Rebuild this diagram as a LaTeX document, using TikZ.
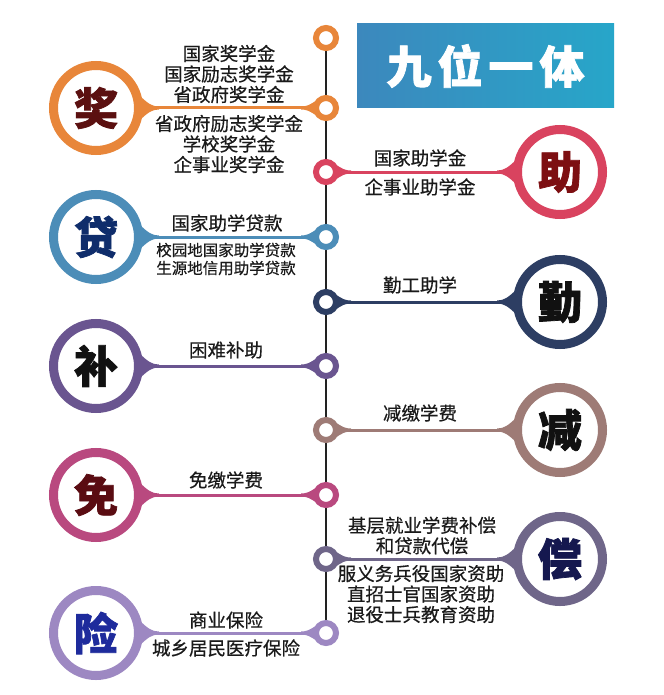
\documentclass[tikz,border=0pt]{standalone}
\usepackage{fontspec}
\setmainfont{Noto Sans CJK SC}[UprightFeatures={FakeBold=0.5}, BoldFeatures={FakeBold=1.6}]
\usetikzlibrary{calc}
\pgfdeclarelayer{bg}\pgfdeclarelayer{paper}\pgfsetlayers{paper,bg,main}
\definecolor{cJiang}{HTML}{E8863A}
\definecolor{cZhu}{HTML}{D9435F}
\definecolor{cDai}{HTML}{4C8DB8}
\definecolor{cQin}{HTML}{2D3E63}
\definecolor{cBu}{HTML}{6A5590}
\definecolor{cJian}{HTML}{9E7B76}
\definecolor{cMian}{HTML}{B9497F}
\definecolor{cChang}{HTML}{6F6689}
\definecolor{cXian}{HTML}{9D88C2}
\definecolor{kJiang}{HTML}{5B1010}
\definecolor{kZhu}{HTML}{7D0F12}
\definecolor{kDai}{HTML}{0F2D6B}
\definecolor{kBlack}{HTML}{111111}
\definecolor{kMian}{HTML}{5A0C12}
\definecolor{kChang}{HTML}{15184F}
\definecolor{kXian}{HTML}{1E2B9C}
\definecolor{txt}{HTML}{1A1A1A}
\definecolor{spine}{HTML}{222222}
\definecolor{tl}{HTML}{3C88BD}
\definecolor{tr}{HTML}{27A6C9}
\newcommand\myflare[5]{\begin{scope}[shift={(#1)},xscale=#2]\fill[#3] (-4,-#5) .. controls (#4*0.3,-#5*0.35) and (#4*0.55,-1.5) .. (#4,-1.5) -- (#4,1.5) .. controls (#4*0.55,1.5) and (#4*0.3,#5*0.35) .. (-4,#5) -- cycle;\end{scope}}
\begin{document}
\begin{tikzpicture}[x=1pt,y=-1pt,
  big/.style={circle, draw=#1, line width=9pt, fill=white, minimum size=85pt, inner sep=0pt, font=\fontsize{44}{44}\selectfont\bfseries},
  small/.style={circle, draw=#1, line width=6pt, fill=white, minimum size=20pt, inner sep=0pt},
  conn/.style={draw=#1, line width=3pt},
  lbl/.style={font=\fontsize{18.5}{20.5}\selectfont, align=center, text=txt, inner sep=0pt},
  lbls/.style={font=\fontsize{15.5}{18}\selectfont, align=center, text=txt, inner sep=0pt},
  title/.style={rectangle, minimum width=257pt, minimum height=84pt, left color=tl, right color=tr, text=white, font=\fontsize{45}{45}\selectfont\bfseries, inner sep=0pt}]
\useasboundingbox (0,0) rectangle (663,695);
\begin{pgfonlayer}{paper}
\fill[white] (0,0) rectangle (663,695);
\end{pgfonlayer}
% title
\node[title] (title) at (485.5,66) {九\hspace{6pt}位\hspace{6pt}一\hspace{6pt}体};
% small circles
\node[small=cJiang] (s0) at (326,38) {};
\node[small=cJiang] (s1) at (326,108) {};
\node[small=cZhu] (s2) at (326,172) {};
\node[small=cDai] (s3) at (326,237) {};
\node[small=cQin] (s4) at (326,302) {};
\node[small=cBu] (s5) at (326,366) {};
\node[small=cJian] (s6) at (326,430) {};
\node[small=cMian] (s7) at (326,495) {};
\node[small=cChang] (s8) at (326,559) {};
\node[small=cXian] (s9) at (326,633) {};
% big circles
\node[big=cJiang, text=kJiang] (b1) at (96,108) {奖};
\node[big=cZhu, text=kZhu] (b2) at (560,172) {助};
\node[big=cDai, text=kDai] (b3) at (96,237) {贷};
\node[big=cQin, text=kBlack] (b4) at (560,302) {勤};
\node[big=cBu, text=kBlack] (b5) at (96,366) {补};
\node[big=cJian, text=kBlack] (b6) at (560,430) {减};
\node[big=cMian, text=kMian] (b7) at (96,495) {免};
\node[big=cChang, text=kChang] (b8) at (560,559) {偿};
\node[big=cXian, text=kXian] (b9) at (96,633) {险};
% connectors
\begin{pgfonlayer}{bg}
\draw[spine, line width=2.5pt] (s0) -- (s9);
\draw[conn=cJiang] (b1) -- (s1);
\myflare{b1.east}{1}{cJiang}{16}{13}\myflare{s1.west}{-1}{cJiang}{12}{8}
\draw[conn=cZhu] (s2) -- (b2);
\myflare{b2.west}{-1}{cZhu}{16}{13}\myflare{s2.east}{1}{cZhu}{12}{8}
\draw[conn=cDai] (b3) -- (s3);
\myflare{b3.east}{1}{cDai}{16}{13}\myflare{s3.west}{-1}{cDai}{12}{8}
\draw[conn=cQin] (s4) -- (b4);
\myflare{b4.west}{-1}{cQin}{16}{13}\myflare{s4.east}{1}{cQin}{12}{8}
\draw[conn=cBu] (b5) -- (s5);
\myflare{b5.east}{1}{cBu}{16}{13}\myflare{s5.west}{-1}{cBu}{12}{8}
\draw[conn=cJian] (s6) -- (b6);
\myflare{b6.west}{-1}{cJian}{16}{13}\myflare{s6.east}{1}{cJian}{12}{8}
\draw[conn=cMian] (b7) -- (s7);
\myflare{b7.east}{1}{cMian}{16}{13}\myflare{s7.west}{-1}{cMian}{12}{8}
\draw[conn=cChang] (s8) -- (b8);
\myflare{b8.west}{-1}{cChang}{16}{13}\myflare{s8.east}{1}{cChang}{12}{8}
\draw[conn=cXian] (b9) -- (s9);
\myflare{b9.east}{1}{cXian}{16}{13}\myflare{s9.west}{-1}{cXian}{12}{8}
\end{pgfonlayer}
% labels
\node[lbl] (t1a) at (229,74) {国家奖学金\\国家励志奖学金\\省政府奖学金};
\node[lbl] (t1b) at (229,144) {省政府励志奖学金\\学校奖学金\\企事业奖学金};
\node[lbl] (t2a) at (420,158) {国家助学金};
\node[lbl] (t2b) at (420,187) {企事业助学金};
\node[lbl] (t3a) at (227,223) {国家助学贷款};
\node[lbls] (t3b) at (226,259) {校园地国家助学贷款\\生源地信用助学贷款};
\node[lbl] (t4) at (420,285) {勤工助学};
\node[lbl] (t5) at (226,350) {困难补助};
\node[lbl] (t6) at (420,413) {减缴学费};
\node[lbl] (t7) at (226,480) {免缴学费};
\node[lbl] (t8a) at (422,535.5) {基层就业学费补偿\\和贷款代偿};
\node[lbl] (t8b) at (421,594) {服义务兵役国家资助\\直招士官国家资助\\退役士兵教育资助};
\node[lbl] (t9a) at (226,620) {商业保险};
\node[lbl] (t9b) at (226,648) {城乡居民医疗保险};
\end{tikzpicture}
\end{document}
